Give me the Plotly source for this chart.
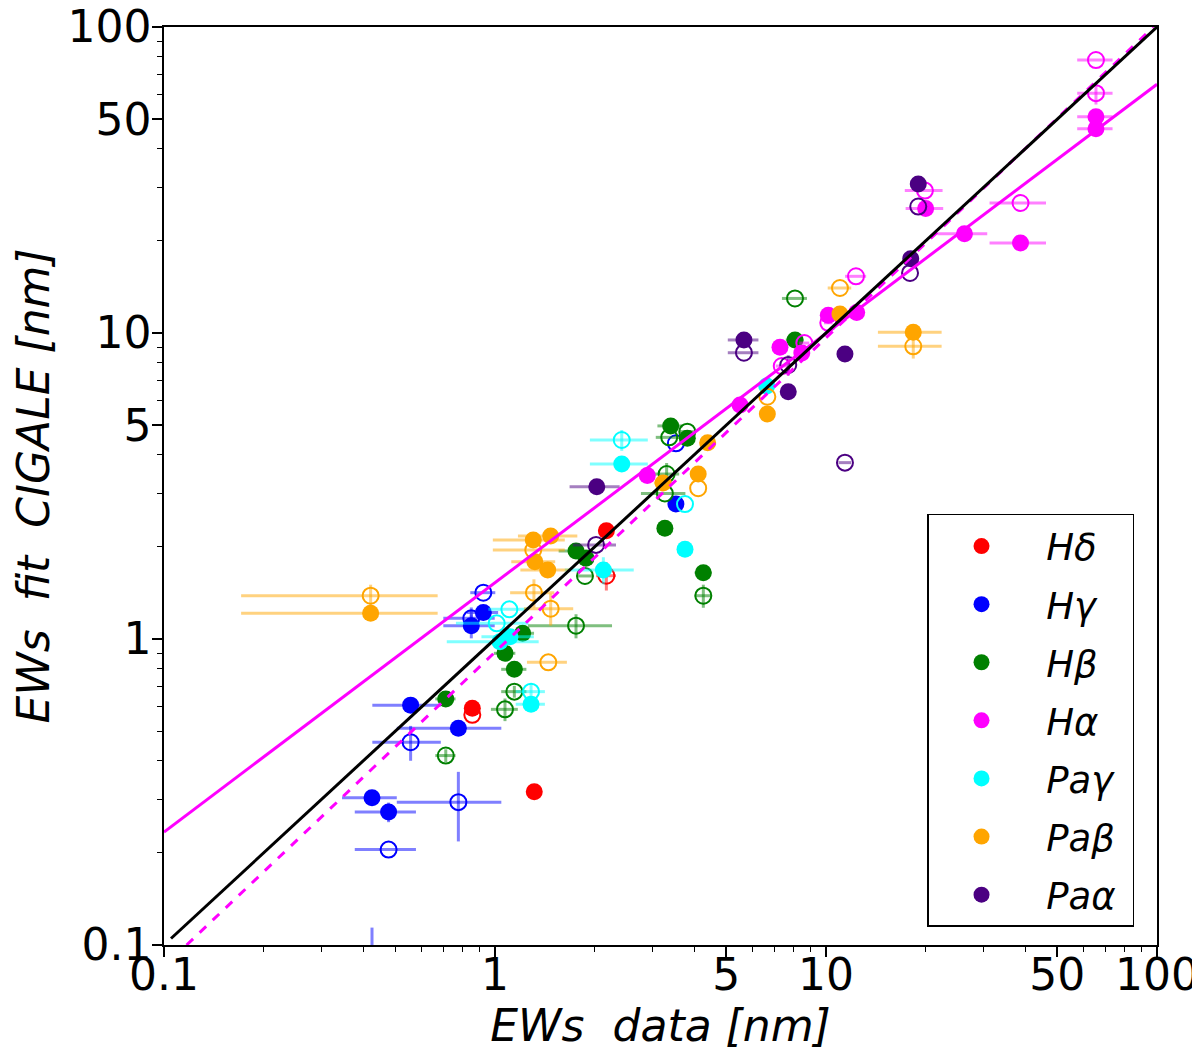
import plotly.graph_objects as go

# Equivalent widths, data vs CIGALE fit, in nm. "fill" = filled dots, "open" = hollow dots
SPECIES = ["Hδ", "Hγ", "Hβ", "Hα", "Paγ", "Paβ", "Paα"]
COLORS = ["#ff0000", "#0000ff", "#008000", "#ff00ff", "#00ffff", "#ffa500", "#4b0082"]

HD_FILL_X = [2.17, 0.854, 1.314]
HD_FILL_Y = [2.26, 0.594, 0.317]
HD_FILL_XERR = [0.12, 0, 0]
HD_FILL_YERR = [0, 0, 0]
HD_OPEN_X = [2.17, 0.854]
HD_OPEN_Y = [1.61, 0.565]
HD_OPEN_XERR = [0.15, 0]
HD_OPEN_YERR = [0.17, 0]

HG_FILL_X = [0.922, 0.848, 0.556, 0.775, 0.425, 0.477, 3.52]
HG_FILL_Y = [1.22, 1.105, 0.608, 0.511, 0.303, 0.272, 2.76]
HG_FILL_XERR = [0.1, 0.15, 0.13, 0.27, 0.08, 0.1, 0]
HG_FILL_YERR = [0, 0.1, 0, 0, 0, 0.02, 0]
HG_OPEN_X = [0.922, 0.848, 0.556, 0.775, 0.477, 3.52, 0.425]
HG_OPEN_Y = [1.417, 1.168, 0.46, 0.293, 0.205, 4.36, 0.08]
HG_OPEN_XERR = [0.08, 0.15, 0.13, 0.27, 0.1, 0, 0]
HG_OPEN_YERR = [0, 0.1, 0.06, 0.075, 0, 0, 0.034]

HB_FILL_X = [1.212, 1.072, 1.144, 0.71, 1.757, 1.883, 3.395, 3.81, 3.26, 4.26, 8.06]
HB_FILL_Y = [1.044, 0.898, 0.796, 0.637, 1.94, 1.835, 4.97, 4.53, 2.30, 1.647, 9.49]
HB_FILL_XERR = [0.1, 0.08, 0.1, 0.05, 0.2, 0.1, 0.3, 0.2, 0, 0.25, 0.5]
HB_FILL_YERR = [0, 0, 0, 0, 0, 0, 0, 0, 0, 0, 0]
HB_OPEN_X = [1.144, 1.072, 0.71, 1.87, 1.757, 3.36, 3.81, 3.30, 3.26, 4.26, 8.06]
HB_OPEN_Y = [0.673, 0.589, 0.416, 1.607, 1.105, 4.56, 4.76, 3.46, 2.99, 1.385, 12.97]
HB_OPEN_XERR = [0.1, 0.1, 0.05, 0.1, 0.5, 0.3, 0.2, 0.3, 0.5, 0.25, 0.7]
HB_OPEN_YERR = [0.03, 0.05, 0.02, 0, 0.1, 0, 0, 0.3, 0, 0.12, 0]

HA_FILL_X = [65.4, 65.4, 20.0, 26.2, 38.7, 12.38, 10.16, 7.26, 8.45, 5.50, 2.885]
HA_FILL_Y = [50.9, 46.5, 25.5, 21.1, 19.7, 11.67, 11.42, 8.98, 8.60, 5.82, 3.42]
HA_FILL_XERR = [8, 8, 2.6, 4.5, 7.5, 0.5, 0.3, 0.3, 0.3, 0, 0]
HA_FILL_YERR = [0, 0, 0, 1, 0, 0, 0, 0, 0, 0, 0]
HA_OPEN_X = [65.4, 65.4, 19.9, 38.7, 12.32, 10.16, 8.60, 7.35]
HA_OPEN_Y = [78.0, 60.8, 29.2, 26.6, 15.32, 10.8, 9.27, 7.80]
HA_OPEN_XERR = [8, 8, 2.6, 7.5, 0.9, 0.3, 0.3, 0.3]
HA_OPEN_YERR = [0, 5, 0, 0, 0, 0, 0, 0]

PG_FILL_X = [2.415, 3.75, 6.62, 2.125, 1.285, 1.11, 1.035]
PG_FILL_Y = [3.73, 1.964, 6.71, 1.68, 0.612, 1.017, 0.98]
PG_FILL_XERR = [0.48, 0, 0.2, 0.5, 0.13, 0.2, 0.32]
PG_FILL_YERR = [0, 0, 0, 0.17, 0, 0, 0]
PG_OPEN_X = [2.415, 3.75, 1.105, 1.012, 1.285]
PG_OPEN_Y = [4.47, 2.76, 1.25, 1.125, 0.673]
PG_OPEN_XERR = [0.48, 0, 0.15, 0.25, 0.13]
PG_OPEN_YERR = [0.35, 0, 0, 0, 0.04]

PB_FILL_X = [0.421, 1.305, 1.473, 1.32, 1.443, 3.22, 4.11, 4.39, 6.65, 11.02, 18.35]
PB_FILL_Y = [1.213, 2.106, 2.17, 1.789, 1.68, 3.235, 3.46, 4.38, 5.44, 11.54, 10.05]
PB_FILL_XERR = [0.25, 0.32, 0.3, 0.2, 0.25, 0.2, 0, 0.2, 0, 0, 4]
PB_FILL_YERR = [0, 0, 0, 0, 0, 0, 0, 0, 0, 0, 0]
PB_OPEN_X = [0.421, 1.305, 1.311, 1.473, 1.449, 4.11, 6.65, 11.02, 18.35]
PB_OPEN_Y = [1.385, 1.953, 1.417, 1.256, 0.839, 3.11, 6.19, 14.03, 9.05]
PB_OPEN_XERR = [0.25, 0.32, 0.2, 0.25, 0.2, 0, 0, 0.9, 4]
PB_OPEN_YERR = [0.12, 0, 0.15, 0.15, 0, 0, 0, 0, 0.8]

PA_FILL_X = [2.03, 5.65, 11.41, 7.69, 19.0, 18.03]
PA_FILL_Y = [3.147, 9.49, 8.54, 6.43, 30.7, 17.49]
PA_FILL_XERR = [0.35, 0.6, 0.5, 0, 0, 0]
PA_FILL_YERR = [0, 0, 0, 0, 0, 0]
PA_OPEN_X = [5.65, 7.69, 19.0, 17.94, 11.41, 2.02]
PA_OPEN_Y = [8.62, 7.86, 25.9, 15.71, 3.77, 2.03]
PA_OPEN_XERR = [0.6, 0, 0, 0, 0.5, 0.3]
PA_OPEN_YERR = [0, 0.6, 0, 0, 0, 0]

# fitted relations (end points)
ONE_TO_ONE_X = [0.105, 100]
ONE_TO_ONE_Y = [0.105, 100]
HA_FIT_X = [0.1, 100]
HA_FIT_Y = [0.234, 65]
ALL_FIT_X = [0.117, 97.5]
ALL_FIT_Y = [0.1, 100]

DATA = [
    (HD_FILL_X, HD_FILL_Y, HD_FILL_XERR, HD_FILL_YERR, HD_OPEN_X, HD_OPEN_Y, HD_OPEN_XERR, HD_OPEN_YERR),
    (HG_FILL_X, HG_FILL_Y, HG_FILL_XERR, HG_FILL_YERR, HG_OPEN_X, HG_OPEN_Y, HG_OPEN_XERR, HG_OPEN_YERR),
    (HB_FILL_X, HB_FILL_Y, HB_FILL_XERR, HB_FILL_YERR, HB_OPEN_X, HB_OPEN_Y, HB_OPEN_XERR, HB_OPEN_YERR),
    (HA_FILL_X, HA_FILL_Y, HA_FILL_XERR, HA_FILL_YERR, HA_OPEN_X, HA_OPEN_Y, HA_OPEN_XERR, HA_OPEN_YERR),
    (PG_FILL_X, PG_FILL_Y, PG_FILL_XERR, PG_FILL_YERR, PG_OPEN_X, PG_OPEN_Y, PG_OPEN_XERR, PG_OPEN_YERR),
    (PB_FILL_X, PB_FILL_Y, PB_FILL_XERR, PB_FILL_YERR, PB_OPEN_X, PB_OPEN_Y, PB_OPEN_XERR, PB_OPEN_YERR),
    (PA_FILL_X, PA_FILL_Y, PA_FILL_XERR, PA_FILL_YERR, PA_OPEN_X, PA_OPEN_Y, PA_OPEN_XERR, PA_OPEN_YERR),
]


def faded(hex_color, alpha=0.5):
    r, g, b = int(hex_color[1:3], 16), int(hex_color[3:5], 16), int(hex_color[5:7], 16)
    return f"rgba({r},{g},{b},{alpha})"


fig = go.Figure()

# legend entries first so the order matches
for name, color in zip(SPECIES, COLORS):
    fig.add_trace(go.Scatter(x=[None], y=[None], mode="markers",
                             name=f"<i>\u00a0{name}</i>\u00a0",
                             legendgroup=name,
                             marker=dict(color=color, size=16)))

for name, color, d in zip(SPECIES, COLORS, DATA):
    fx, fy, fxe, fye, ox, oy, oxe, oye = d
    err_col = faded(color)
    fig.add_trace(go.Scatter(
        x=fx, y=fy, mode="markers", showlegend=False, legendgroup=name,
        marker=dict(color=color, size=17),
        error_x=dict(type="data", array=fxe, color=err_col, thickness=3, width=0),
        error_y=dict(type="data", array=fye, color=err_col, thickness=3, width=0)))
    fig.add_trace(go.Scatter(
        x=ox, y=oy, mode="markers", showlegend=False, legendgroup=name,
        marker=dict(color=color, size=16, symbol="circle-open", line=dict(width=2)),
        error_x=dict(type="data", array=oxe, color=err_col, thickness=3, width=0),
        error_y=dict(type="data", array=oye, color=err_col, thickness=3, width=0)))

fig.add_trace(go.Scatter(x=ALL_FIT_X, y=ALL_FIT_Y, mode="lines", showlegend=False,
                         line=dict(color="#ff00ff", width=3, dash="dash")))
fig.add_trace(go.Scatter(x=HA_FIT_X, y=HA_FIT_Y, mode="lines", showlegend=False,
                         line=dict(color="#ff00ff", width=3)))
fig.add_trace(go.Scatter(x=ONE_TO_ONE_X, y=ONE_TO_ONE_Y, mode="lines", showlegend=False,
                         line=dict(color="black", width=3)))

minor_vals = [0.2, 0.3, 0.4, 0.5, 0.6, 0.7, 0.8, 0.9, 2, 3, 4, 6, 7, 8, 9,
              20, 30, 40, 60, 70, 80, 90]
axis_common = dict(
    type="log", range=[-1, 2], automargin=False, ticklabeloverflow="allow",
    tickvals=[0.1, 1, 5, 10, 50, 100], ticktext=["0.1", "1", "5", "10", "50", "100"],
    ticks="outside", ticklen=10, tickwidth=1.5, tickcolor="black",
    minor=dict(tickvals=minor_vals, ticks="outside", ticklen=5, tickwidth=1.2, tickcolor="black"),
    showline=True, linecolor="black", linewidth=1.5, mirror=True,
    showgrid=False, zeroline=False,
    tickfont=dict(size=44, color="black"),
)

# the page body adds an 8px offset, so margins are shifted to compensate
fig.update_layout(
    width=1200, height=1063,
    margin=dict(l=156, r=51, t=19, b=126),
    paper_bgcolor="white", plot_bgcolor="white",
    font=dict(family="DejaVu Sans", color="black"),
    xaxis=dict(axis_common, ticklabelstandoff=-20,
               title=dict(text="<i>EWs  data [nm]</i>", font=dict(size=44), standoff=8)),
    yaxis=dict(axis_common, ticklabelstandoff=-8,
               title=dict(text="<i>EWs  fit  CIGALE [nm]</i>", font=dict(size=44), standoff=5)),
    legend=dict(x=0.7684, y=0.4695, xanchor="left", yanchor="top",
                bordercolor="black", borderwidth=1.5, bgcolor="white",
                font=dict(size=37), tracegroupgap=7, itemwidth=96),
)

fig.write_html("out.html")
